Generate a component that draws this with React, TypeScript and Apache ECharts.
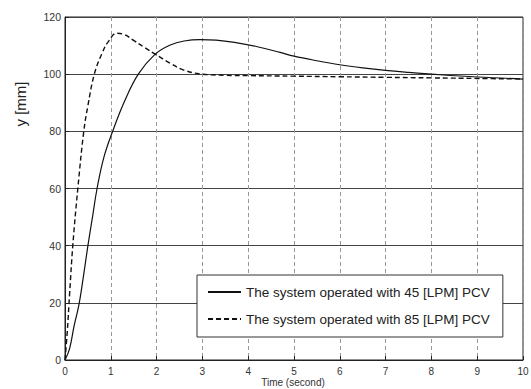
import React, { useEffect, useRef } from "react";
import * as echarts from "echarts";

// Step response of the system, position y [mm] over time [s]
const tPcv45 = [0, 0.1, 0.2, 0.3, 0.4, 0.5, 0.6, 0.7, 0.85, 1.04, 1.3, 1.6, 1.97, 2.3, 2.6, 2.95, 3.3, 3.7, 4.2, 4.7, 5.0, 5.5, 6.0, 6.5, 7.0, 7.5, 8.0, 9.0, 10.0];
const yPcv45 = [0, 4, 12, 19, 29, 40, 50, 60, 71, 80, 90.5, 100, 107, 110.2, 111.6, 112.1, 111.9, 111.1, 109.6, 107.6, 106.3, 104.7, 103.3, 102.2, 101.3, 100.6, 100.0, 99.0, 98.3];

const tPcv85 = [0, 0.05, 0.1, 0.17, 0.28, 0.41, 0.5, 0.64, 0.8, 0.95, 1.13, 1.3, 1.5, 1.75, 1.97, 2.3, 2.58, 2.95, 3.5, 4.0, 5.0, 6.0, 7.0, 8.0, 9.0, 10.0];
const yPcv85 = [0, 10, 23, 40, 60, 80, 89, 100, 107, 111.5, 114.3, 113.8, 111.8, 109.2, 107, 103.8, 101.5, 100.1, 99.6, 99.5, 99.3, 99.1, 98.9, 98.7, 98.5, 98.3];

const xTicks = [0, 1, 2, 3, 4, 5, 6, 7, 8, 9, 10];
const yTicks = [0, 20, 40, 60, 80, 100, 120];

const seriesNames = [
  "The system operated with 45 [LPM] PCV",
  "The system operated with 85 [LPM] PCV",
];

const pair = (t: number[], y: number[]) => t.map((v, i) => [v, y[i]]);

export default function App() {
  const ref = useRef<HTMLDivElement>(null);

  useEffect(() => {
    if (!ref.current) return;
    const chart = echarts.init(ref.current, null, { renderer: "svg" });
    const font = "Liberation Sans, Arial, sans-serif";
    chart.setOption({
      animation: false,
      backgroundColor: "#ffffff",
      grid: {
        left: 65,
        right: 8,
        top: 17,
        bottom: 29,
        outerBoundsMode: "none",
        containLabel: false,
        show: true,
        borderColor: "#222",
        borderWidth: 1,
      },
      xAxis: {
        type: "value",
        min: xTicks[0],
        max: xTicks[xTicks.length - 1],
        interval: 1,
        axisLine: { show: true, lineStyle: { color: "#222", width: 1 } },
        axisTick: { show: true, inside: true, length: 4, lineStyle: { color: "#222" } },
        axisLabel: { fontFamily: font, fontSize: 10, color: "#333", margin: 6 },
        splitLine: { show: true, lineStyle: { color: "#999", type: [4, 3], width: 1 } },
      },
      yAxis: {
        type: "value",
        min: yTicks[0],
        max: yTicks[yTicks.length - 1],
        interval: 20,
        axisLine: { show: true, lineStyle: { color: "#222", width: 1 } },
        axisTick: { show: true, inside: true, length: 4, lineStyle: { color: "#222" } },
        axisLabel: { fontFamily: font, fontSize: 10.5, color: "#333", margin: 4 },
        splitLine: { show: true, lineStyle: { color: "#444", type: "solid", width: 1 } },
      },
      legend: {
        orient: "vertical",
        left: 197,
        top: 275,
        backgroundColor: "#fff",
        borderColor: "#333",
        borderWidth: 1,
        padding: [10, 13, 11, 10],
        itemGap: 13,
        itemWidth: 33,
        itemHeight: 8,
        itemStyle: { opacity: 0 },
        textStyle: { fontFamily: font, fontSize: 13.5, color: "#222" },
        data: seriesNames,
      },
      graphic: [
        {
          type: "text",
          x: 20,
          y: 104,
          rotation: Math.PI / 2,
          style: {
            text: "y [mm]",
            fontFamily: font,
            fontSize: 15,
            fill: "#222",
            align: "center",
            verticalAlign: "middle",
          },
        },
        {
          type: "text",
          x: 293,
          y: 382,
          style: {
            text: "Time (second)",
            fontFamily: font,
            fontSize: 10,
            fill: "#333",
            align: "center",
            verticalAlign: "middle",
          },
        },
      ],
      series: [
        {
          name: seriesNames[0],
          type: "line",
          data: pair(tPcv45, yPcv45),
          smooth: 0.4,
          symbol: "none",
          z: 3,
          lineStyle: { color: "#111", width: 1.2, type: "solid" },
          itemStyle: { color: "#111" },
        },
        {
          name: seriesNames[1],
          type: "line",
          data: pair(tPcv85, yPcv85),
          smooth: 0.4,
          symbol: "none",
          z: 3,
          lineStyle: { color: "#111", width: 1.4, type: [5, 3] },
          itemStyle: { color: "#111" },
        },
      ],
    });
    return () => chart.dispose();
  }, []);

  return <div ref={ref} style={{ width: 531, height: 389, position: "absolute", left: 0, top: 0 }} />;
}
